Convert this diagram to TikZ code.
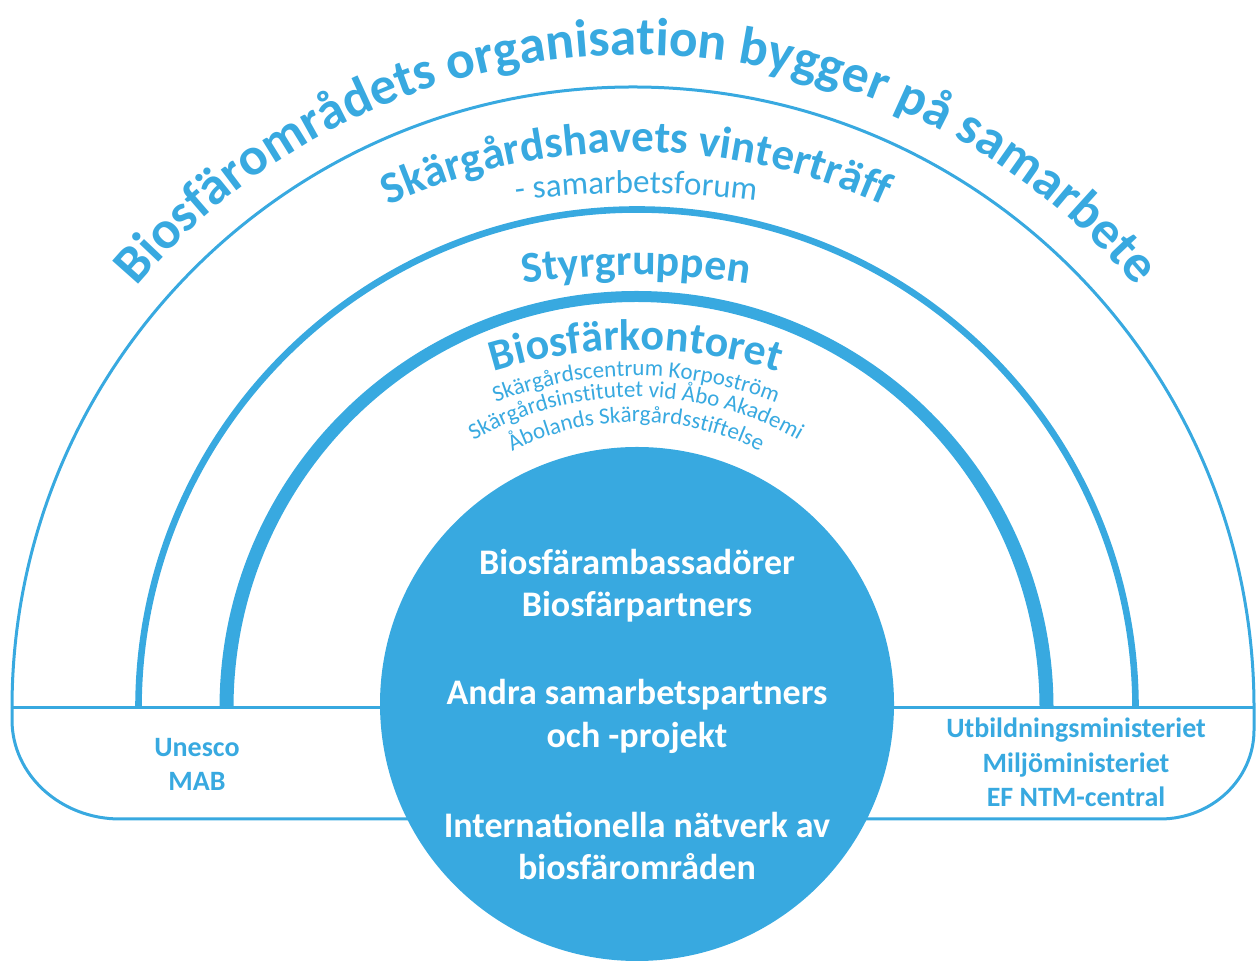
\documentclass[tikz,border=0pt]{standalone}
\usepackage{fontspec}
\setmainfont{Carlito}
\usetikzlibrary{decorations.text}

\newcommand\titlefont{\fontsize{26.7}{30}\selectfont\bfseries\color{bio_blue}}
\newcommand\ringfont{\fontsize{22.5}{26}\selectfont\bfseries\color{bio_blue}}
\newcommand\forumfont{\fontsize{16.5}{20}\selectfont\color{bio_blue}}
\newcommand\officefont{\fontsize{22}{26}\selectfont\bfseries\color{bio_blue}}
\newcommand\memberfont{\fontsize{11.5}{14}\selectfont\color{bio_blue}}

\begin{document}
\begin{tikzpicture}[x=0.5pt,y=0.5pt]
% ------------------------------------------------ biosphere theme colors
\definecolor{bio_blue}{RGB}{56,169,224}   %#38A9E0

\tikzset{
  ring/.style={line width=1.5pt,color=bio_blue},
  arclabel/.style={decorate,decoration={text along path,text align=center,text={#1}}},
  hubtext/.style={anchor=base,text=white,font=\fontsize{18}{22}\selectfont\bfseries},
  bandtext/.style={anchor=base,text=bio_blue,font=\fontsize{14}{17}\selectfont\bfseries}
}

\useasboundingbox (0,0) rectangle (1256,962);

% ---------------------------------------------  arches and bottom band
\draw[ring] (12,254) arc[start angle=180,end angle=0,radius=621];
\draw[ring,line width=3.3pt] (138.5,254) arc[start angle=180,end angle=0,radius=498.5];
\fill[bio_blue] (219.5,254) arc[start angle=180,end angle=0,radius=417]
   -- (1039.5,254) arc[start angle=0,end angle=180,x radius=403,y radius=406] -- cycle;

\draw[ring] (12,254) -- (1254,254);
\draw[ring] (12,254) -- (12,242) arc[start angle=180,end angle=270,x radius=108,y radius=99]
   -- (1160,143) arc[start angle=270,end angle=360,x radius=94,y radius=89] -- (1254,254);

% ---------------------------------------------  centre circle
\node[circle,fill=bio_blue,inner sep=0pt,minimum size=257pt] (hub) at (637,258) {};

% ---------------------------------------------  texts along the arches
\path[arclabel={|\titlefont|Biosfärområdets organisation bygger på samarbete}]
   (-19,252) arc[start angle=180,end angle=0,radius=655];
\path[arclabel={|\ringfont|Skärgårdshavets vinterträff}]
   (36,210) arc[start angle=180,end angle=0,radius=600];
\path[arclabel={|\forumfont|- samarbetsforum}]
   (-264,-131) arc[start angle=180,end angle=0,radius=900];
\path[arclabel={|\officefont|Styrgruppen}]
   (-64,-13) arc[start angle=180,end angle=0,radius=700];
\path[arclabel={|\officefont|Biosfärkontoret}]
   (156,132) arc[start angle=180,end angle=0,radius=480];
\path[arclabel={|\memberfont|Skärgårdscentrum Korpoström}]
   (256,206) arc[start angle=180,end angle=0,radius=380];
\path[arclabel={|\memberfont|Skärgårdsinstitutet vid Åbo Akademi}]
   (311,240) arc[start angle=180,end angle=0,radius=325];
\path[arclabel={|\memberfont|Åbolands Skärgårdsstiftelse}]
   (361,265) arc[start angle=180,end angle=0,radius=275];

% ---------------------------------------------  texts in the circle
\node[hubtext] (amb)  at (637,387) {Biosfärambassadörer};
\node[hubtext] (part) at (637,345) {Biosfärpartners};
\node[hubtext] (andra) at (637,257) {Andra samarbetspartners};
\node[hubtext] (proj) at (637,214) {och -projekt};
\node[hubtext] (intl) at (637,124) {Internationella nätverk av};
\node[hubtext] (omr)  at (637,82)  {biosfärområden};

% ---------------------------------------------  texts in the band
\node[bandtext] (unesco) at (197,205) {Unesco};
\node[bandtext] (mab)    at (197,171) {MAB};
\node[bandtext] (utb)    at (1076,224) {Utbildningsministeriet};
\node[bandtext] (milj)   at (1076,189) {Miljöministeriet};
\node[bandtext] (ntm)    at (1076,155) {EF NTM-central};

\end{tikzpicture}
\end{document}
